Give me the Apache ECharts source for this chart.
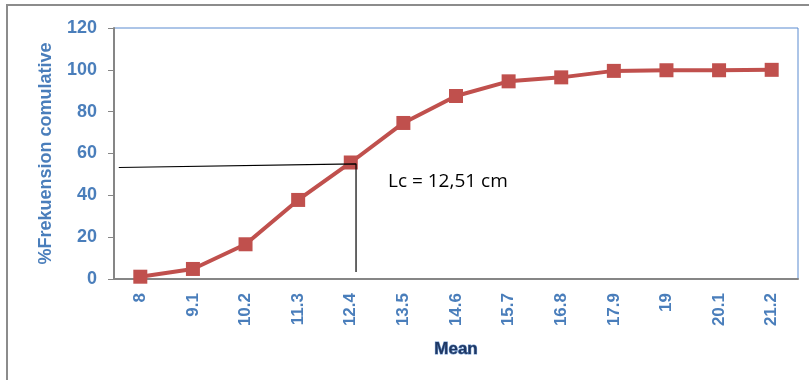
<!DOCTYPE html>
<html>
<head>
<meta charset="utf-8">
<script src="https://cdn.jsdelivr.net/npm/echarts@6/dist/echarts.min.js"></script>
<style>
  html, body { margin: 0; padding: 0; background: #fff; }
  #chart { width: 809px; height: 380px; }
</style>
</head>
<body>
<div id="chart"></div>
<script>
// Class means (cm) on the category axis
const categories = ['8', '9.1', '10.2', '11.3', '12.4', '13.5', '14.6', '15.7', '16.8', '17.9', '19', '20.1', '21.2'];
// Cumulative frequency in percent for each class mean
const cumPercent = [1.1, 4.8, 16.6, 37.8, 55.7, 74.6, 87.5, 94.5, 96.4, 99.5, 99.8, 99.8, 100];
// Y-axis tick range
const yTicks = { min: 0, max: 120, step: 20 };
// Median guide: Lc read at the ~55 % level
const lcValue = 12.51;
const lcLabel = 'Lc = 12,51 cm';
const guideStartMean = 7.55;
const guideLevelStart = 53.3;
const guideLevelEnd = 55;
const guideBottom = 3.3;

// Numeric axis over the same span as the category axis (bands centred on the means)
const meanStep = 1.1;
const meanMin = parseFloat(categories[0]) - meanStep / 2;
const meanMax = parseFloat(categories[categories.length - 1]) + meanStep / 2;

const blue = '#4a7ebb';
const axisGray = '#868686';
const font = 'Liberation Sans';

const chart = echarts.init(document.getElementById('chart'), null, { renderer: 'canvas' });

chart.setOption({
  animation: false,
  backgroundColor: '#fff',
  grid: {
    left: 114, top: 28, right: 11, bottom: 101,
    show: true, borderColor: '#5b8bd0', borderWidth: 1, backgroundColor: 'transparent'
  },
  xAxis: [
    {
      type: 'category',
      data: categories,
      boundaryGap: true,
      name: 'Mean',
      nameLocation: 'middle',
      nameGap: 62,
      nameTextStyle: {
        color: '#1f3864', fontFamily: font, fontWeight: 'bold', fontSize: 17,
        textBorderColor: '#6d97cf', textBorderWidth: 1
      },
      axisLine: { show: true, lineStyle: { color: axisGray, width: 2 } },
      axisTick: { show: false },
      axisLabel: {
        rotate: 90, margin: 14, color: blue, fontFamily: font, fontWeight: 'bold', fontSize: 17, interval: 0
      },
      splitLine: { show: false }
    },
    {
      type: 'value',
      min: meanMin,
      max: meanMax,
      show: false
    }
  ],
  yAxis: {
    type: 'value',
    min: yTicks.min,
    max: yTicks.max,
    interval: yTicks.step,
    name: '%Frekuension comulative',
    nameLocation: 'middle',
    nameGap: 59,
    nameRotate: 90,
    nameTextStyle: { color: blue, fontFamily: font, fontWeight: 'bold', fontSize: 18 },
    axisLine: { show: true, lineStyle: { color: axisGray, width: 2 } },
    axisTick: { show: true, inside: false, length: 6, lineStyle: { color: axisGray, width: 1 } },
    axisLabel: { margin: 17, color: blue, fontFamily: font, fontWeight: 'bold', fontSize: 18 },
    splitLine: { show: false }
  },
  series: [
    {
      type: 'line',
      xAxisIndex: 0,
      data: cumPercent,
      symbol: 'rect',
      symbolSize: 14,
      lineStyle: { color: '#c0504d', width: 4 },
      itemStyle: { color: '#c0504d' },
      z: 3
    },
    {
      type: 'line',
      xAxisIndex: 1,
      data: [[guideStartMean, guideLevelStart], [lcValue, guideLevelEnd], [lcValue, guideBottom]],
      symbol: 'none',
      silent: true,
      lineStyle: { color: '#000', width: 1.2 },
      z: 4
    }
  ],
  graphic: [
    {
      type: 'rect',
      shape: { x: 7, y: 5, width: 900, height: 500 },
      style: { fill: 'none', stroke: '#8c8c8c', lineWidth: 2 },
      silent: true
    },
    {
      type: 'text',
      left: 388,
      top: 172,
      style: { text: lcLabel, fill: '#000', font: '19px "Open Sans"' },
      silent: true
    }
  ]
});
</script>
</body>
</html>
